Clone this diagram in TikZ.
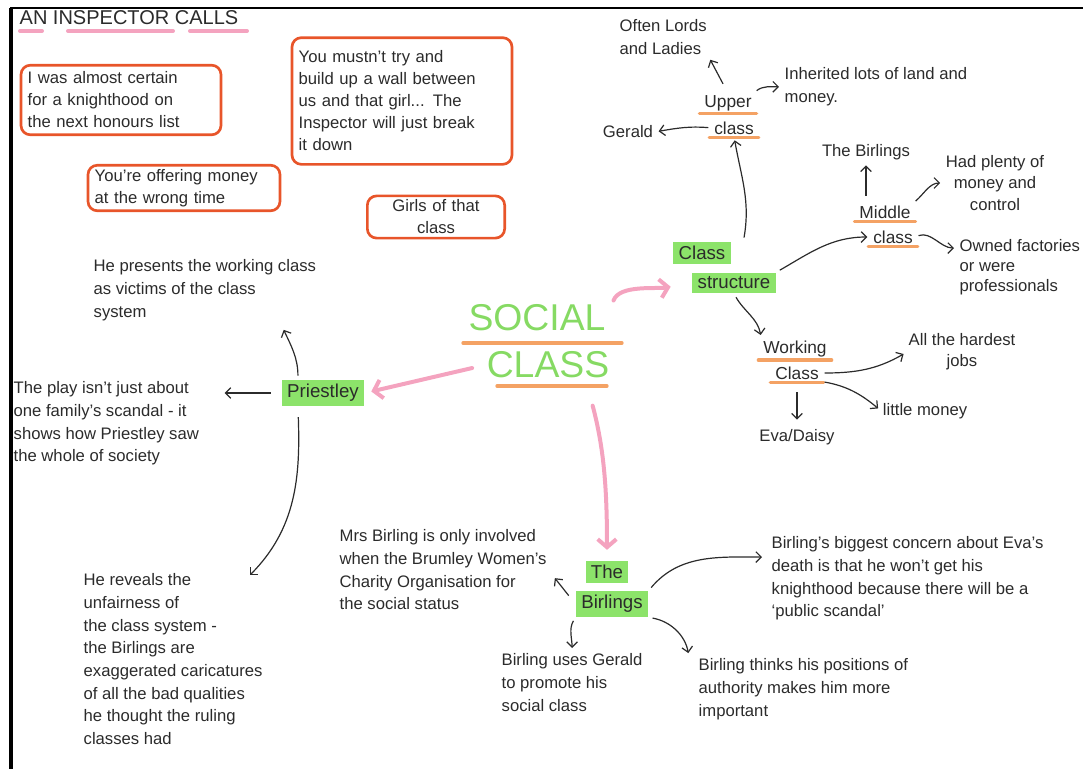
\documentclass[tikz,border=0pt]{standalone}
\usepackage{fontspec}
\setmainfont{Liberation Sans}
\usetikzlibrary{arrows.meta,calc}

\definecolor{penink}{HTML}{2B2B2B}
\definecolor{hlgreen}{HTML}{8CE36A}
\definecolor{bigreen}{HTML}{86DA63}
\definecolor{boxorange}{HTML}{E8552A}
\definecolor{lineorange}{HTML}{F4A264}
\definecolor{hlpink}{HTML}{F4A3BF}

\tikzset{every picture/.style={line width=1pt},
    note/.style={anchor=north west,inner sep=0.75pt,align=left,text=penink,font=\fontsize{12.5}{17}\selectfont},
    leaf/.style={inner sep=0.75pt,align=center,text=penink,font=\fontsize{12.5}{16}\selectfont},
    quote/.style={draw=boxorange,line width=2pt,rounded corners=7pt,inner sep=5pt,align=left,text=penink,font=\fontsize{12.5}{16.5}\selectfont},
    hl/.style={fill=hlgreen,inner xsep=4pt,inner ysep=3pt,text=penink,font=\fontsize{14}{16}\selectfont},
    sub/.style={inner sep=1pt,text=penink,font=\fontsize{13}{15}\selectfont},
    pen/.style={draw=penink,line width=0.9pt,-{Straight Barb[length=4pt,width=8pt]},shorten >=3pt,shorten <=3pt},
    pinkpen/.style={draw=hlpink,line width=3pt,line cap=round,-{Straight Barb[length=6pt,width=14pt]}},
    uline/.style={draw=lineorange,line width=2.5pt,line cap=round},
    pinkline/.style={draw=hlpink,line width=3pt,line cap=round}}

\begin{document}
\begin{tikzpicture}[x=0.75pt,y=0.75pt,yscale=-1]
    \useasboundingbox (0,0) rectangle (1083,769);
    \draw [line width=2pt] (10,8) -- (1083,8) ;
    \draw [line width=2.4pt] (11,8) -- (11,769) ;

    \draw (18,9) node (title) [anchor=north west][inner sep=0.75pt] [text=penink] [font=\fontsize{15}{18}\selectfont] {AN INSPECTOR CALLS};
    \draw [pinkline] (20,31) -- (42,31) ;
    \draw [pinkline] (68,31) -- (173,31) ;
    \draw [pinkline] (190,31) -- (247,31) ;

    % quotes
    \draw (121,100) node (knight) [quote] [text width=140pt] {I was almost certain\\for a knighthood on\\the next honours list};
    \draw (402,101) node (wall) [quote] [text width=155pt] [minimum height=95pt] {You mustn't try and\\build up a wall between\\us and that girl... The\\Inspector will just break\\it down};
    \draw (184,188) node (offering) [quote] [text width=134pt] [inner ysep=3pt] {You're offering money\\at the wrong time};
    \draw (436,217) node (girls) [quote] [text width=93pt] [inner ysep=3pt] [align=center] {Girls of that\\class};

    % centre
    \draw (537,318) node (social) [inner sep=0.75pt] [text=bigreen] [font=\fontsize{28}{30}\selectfont] {SOCIAL};
    \draw (548,365) node (classw) [inner sep=0.75pt] [text=bigreen] [font=\fontsize{28}{30}\selectfont] {CLASS};
    \draw [uline] (463,343) -- (622,343) ;
    \draw [uline] (497,386) -- (607,386) ;

    % class structure
    \draw (702,253) node (csA) [hl] {Class};
    \draw (734,283) node (csB) [hl] {structure};
    \draw (728,103) node (upper) [sub] {Upper};
    \draw (734,128) node (upclass) [sub] {class};
    \draw (885,212) node (middle) [sub] {Middle};
    \draw (893,237) node (midclass) [sub] {class};
    \draw (795,349) node (working) [sub] {Working};
    \draw (797,373) node (wclass) [sub] {Class};
    \draw [uline] ($(upper.south west)+(-3,1)$) -- ($(upper.south east)+(3,1)$) ;
    \draw [uline] ($(upclass.south west)+(-3,1)$) -- ($(upclass.south east)+(3,1)$) ;
    \draw [uline] ($(middle.south west)+(-3,1)$) -- ($(middle.south east)+(3,1)$) ;
    \draw [uline] ($(midclass.south west)+(-3,1)$) -- ($(midclass.south east)+(3,1)$) ;
    \draw [uline] ($(working.south west)+(-3,1)$) -- ($(working.south east)+(3,1)$) ;
    \draw [uline] ($(wclass.south west)+(-3,1)$) -- ($(wclass.south east)+(3,1)$) ;

    \draw (618,18) node (lords) [note] {Often Lords\\and Ladies};
    \draw (783,66) node (inherited) [note] {Inherited lots of land and\\money.};
    \draw (628,132) node (gerald) [leaf] {Gerald};
    \draw (866,152) node (thebirl) [leaf] {The Birlings};
    \draw (995,183) node (plenty) [leaf] {Had plenty of\\money and\\control};
    \draw (958,238) node (owned) [note] [font=\fontsize{12.5}{15}\selectfont] {Owned factories\\or were\\professionals};
    \draw (962,352) node (hardest) [leaf] {All the hardest\\jobs};
    \draw (925,411) node (littlemoney) [leaf] {little money};
    \draw (797,437) node (eva) [leaf] {Eva/Daisy};

    % Priestley
    \draw (323,393) node (priestley) [hl] {Priestley};
    \draw (92,258) node (presents) [note] {He presents the working class\\as victims of the class\\system};
    \draw (12,380) node (play) [note] {The play isn't just about\\one family's scandal - it\\shows how Priestley saw\\the whole of society};
    \draw (82,572) node (reveals) [note] {He reveals the\\unfairness of\\the class system -\\the Birlings are\\exaggerated caricatures\\of all the bad qualities\\he thought the ruling\\classes had};
    \coordinate (revtip) at ($(reveals.north west)+(165,6)$);

    % Birlings
    \draw (607,572) node (birthe) [hl] {The};
    \draw (612,604) node (bir) [hl] {Birlings};
    \draw (338,528) node (mrs) [note] {Mrs Birling is only involved\\when the Brumley Women's\\Charity Organisation for\\the social status};
    \draw (770,535) node (concern) [note] {Birling's biggest concern about Eva's\\death is that he won't get his\\knighthood because there will be a\\`public scandal'};
    \draw (500,652) node (uses) [note] {Birling uses Gerald\\to promote his\\social class};
    \draw (697,657) node (thinks) [note] {Birling thinks his positions of\\authority makes him more\\important};

    % pink connectors
    \draw [pinkpen] [shorten <=14pt,shorten >=16pt] (social.east) to[out=-70,in=170] (csB.west) ;
    \draw [pinkpen] [shorten <=10pt,shorten >=5pt] (classw.west) -- (priestley.east) ;
    \draw [pinkpen] [shorten <=20pt,shorten >=8pt] ($(classw.south)!0.6!(classw.south east)$) to[out=75,in=-90] (birthe.north) ;

    % black connectors
    \draw [pen] ($(csA.north east)+(12,0)$) to[out=-80,in=80] (upclass.south) ;
    \draw [pen] (upclass.west) to[out=185,in=-10] (gerald.east) ;
    \draw [pen] [shorten <=8pt] (upper.north) -- (lords.south east) ;
    \draw [pen] (upper.north east) to[out=-40,in=180] (inherited.west) ;
    \draw [pen] (csB.north east) to[out=-30,in=180] (midclass.west) ;
    \draw [pen] [shorten <=6pt] (middle.north -| thebirl) -- (thebirl.south) ;
    \draw [pen] (middle.north east) to[out=-40,in=180] (plenty.west) ;
    \draw [pen] (midclass.east) to[out=-20,in=180] ($(owned.north west)+(0,10)$) ;
    \draw [pen] (csB.south) to[out=60,in=-100] (working.north west) ;
    \draw [pen] (wclass.east) to[out=0,in=150] (hardest.west) ;
    \draw [pen] (wclass.south east) to[out=10,in=-140] (littlemoney.west) ;
    \draw [pen] [shorten <=8pt,shorten >=6pt] (wclass.south) -- (eva.north) ;

    \draw [pen] [shorten <=8pt,shorten >=18pt] (priestley.west) -- (priestley.west -| play.east) ;
    \draw [pen] ($(priestley.north)!0.6!(priestley.north west)$) to[out=-90,in=65] ($(presents.south west)+(190,4)$) ;
    \draw [pen] [shorten <=8pt] ($(priestley.south)!0.6!(priestley.south west)$) to[out=88,in=-45] (revtip) ;

    \draw [pen] [shorten <=8pt,shorten >=8pt] (bir.west) -- (mrs.east) ;
    \draw [pen] (bir.north east) to[out=-50,in=180] ($(concern.north west)+(-4,22)$) ;
    \draw [pen] (bir.south west) to[out=120,in=-90] (uses.north) ;
    \draw [pen] (bir.south east) to[out=10,in=-100] ($(thinks.north west)+(-8,0)$) ;
\end{tikzpicture}
\end{document}
